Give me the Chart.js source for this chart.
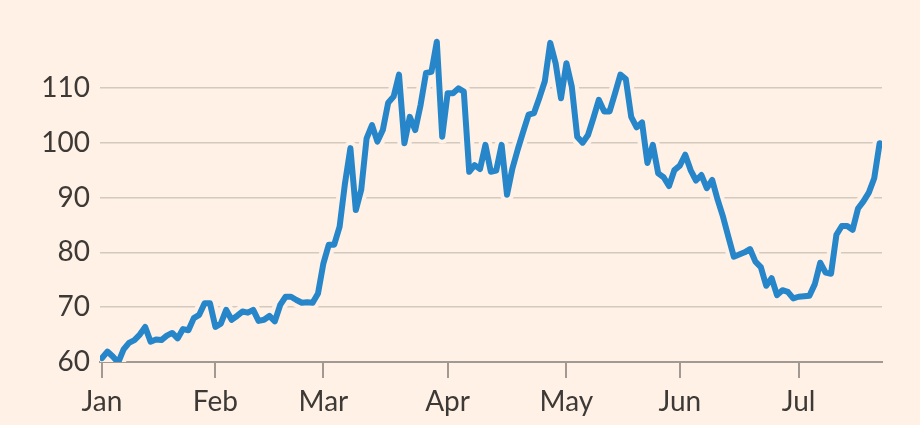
<!DOCTYPE html>
<html>
<head>
<meta charset="utf-8">
<script src="https://cdn.jsdelivr.net/npm/chart.js@4.4.1/dist/chart.umd.min.js"></script>
<style>
  html, body { margin: 0; padding: 0; background: #FFF1E5; }
  canvas { display: block; }
</style>
</head>
<body>
<canvas id="grafico" width="920" height="425"></canvas>
<script>
// Valores diarios (días hábiles desde el 1 de enero)
const valores = [
  60.7, 61.9, 61.0, 59.9, 62.3, 63.5, 64.0, 65.0, 66.4, 63.7,
  64.1, 64.0, 64.8, 65.3, 64.3, 66.0, 65.8, 68.0, 68.6, 70.7,
  70.7, 66.4, 67.0, 69.5, 67.7, 68.4, 69.2, 69.0, 69.5, 67.5,
  67.7, 68.4, 67.4, 70.4, 71.9, 71.9, 71.3, 70.8, 70.9, 70.8,
  72.5, 78.0, 81.4, 81.4, 84.7, 92.6, 99.0, 87.7, 91.4, 100.8,
  103.2, 100.2, 102.3, 107.3, 108.4, 112.4, 99.9, 104.7, 102.3, 106.9,
  112.7, 112.9, 118.4, 101.1, 109.0, 109.0, 109.9, 109.3, 94.7, 95.9,
  95.2, 99.6, 94.7, 94.9, 99.6, 90.5, 95.3, 98.8, 102.0, 105.1,
  105.4, 108.2, 111.2, 118.2, 114.5, 108.1, 114.5, 110.2, 101.1, 100.0,
  101.4, 104.5, 107.8, 105.7, 105.7, 109.0, 112.4, 111.6, 104.7, 102.8,
  103.7, 96.3, 99.6, 94.4, 93.7, 92.1, 95.0, 95.8, 97.8, 95.0,
  93.1, 94.1, 91.7, 93.2, 89.6, 86.5, 82.8, 79.2, 79.6, 80.0,
  80.6, 78.3, 77.3, 73.9, 75.3, 72.2, 73.1, 72.8, 71.6, 71.9,
  72.0, 72.1, 74.2, 78.1, 76.3, 76.1, 83.2, 84.8, 84.8, 84.1,
  88.0, 89.3, 90.9, 93.5, 99.9
];

// Etiquetas de meses y día hábil en que empieza cada uno
const meses = ['Jan', 'Feb', 'Mar', 'Apr', 'May', 'Jun', 'Jul'];
const inicioMes = [0, 21, 41, 64, 86, 107, 129];

const ticksY = [60, 70, 80, 90, 100, 110];

const fondo = '#FFF1E5';
const azul = '#2686C9';
const textoColor = '#3d3936';
const fuente = { family: 'Lato', size: 28 };

const puntos = valores.map((v, i) => ({ x: i, y: v }));

const ctx = document.getElementById('grafico').getContext('2d');

new Chart(ctx, {
    type: 'line',
    data: {
        datasets: [{
            data: puntos,
            borderColor: azul,
            borderWidth: 6,
            borderCapStyle: 'round',
            borderJoinStyle: 'round',
            pointRadius: 0,
            tension: 0,
            order: 1,
        }, {
            // halo del color del fondo que corta la rejilla
            data: puntos,
            borderColor: fondo,
            borderWidth: 14,
            borderCapStyle: 'round',
            borderJoinStyle: 'round',
            pointRadius: 0,
            tension: 0,
            order: 2,
        }],
    },
    options: {
        responsive: false,
        animation: false,
        layout: { padding: { left: 0, right: 38, top: 33, bottom: 0 } },
        plugins: {
            legend: { display: false },
            tooltip: { enabled: false },
        },
        scales: {
            x: {
                type: 'linear',
                min: -0.37,
                max: 144.44,
                afterBuildTicks: (s) => { s.ticks = inicioMes.map(v => ({ value: v })); },
                afterFit: (s) => { s.height = 63; },
                ticks: {
                    autoSkip: false,
                    maxRotation: 0,
                    padding: 7,
                    color: textoColor,
                    font: fuente,
                    callback: (v, i) => meses[i],
                },
                grid: {
                    drawOnChartArea: false,
                    drawTicks: true,
                    tickLength: 16,
                    color: '#A29A92',
                    lineWidth: 2,
                },
                border: { color: '#A29A92', width: 2 },
            },
            y: {
                min: 60,
                max: 120,
                afterBuildTicks: (s) => { s.ticks = ticksY.map(v => ({ value: v })); },
                afterFit: (s) => { s.width = 100; },
                ticks: {
                    padding: 10,
                    color: textoColor,
                    font: fuente,
                },
                grid: {
                    drawTicks: false,
                    color: (c) => c.tick && c.tick.value === 60 ? 'rgba(0,0,0,0)' : '#D3CABF',
                    lineWidth: 1.6,
                },
                border: { display: false },
            },
        },
    },
});
</script>
</body>
</html>
